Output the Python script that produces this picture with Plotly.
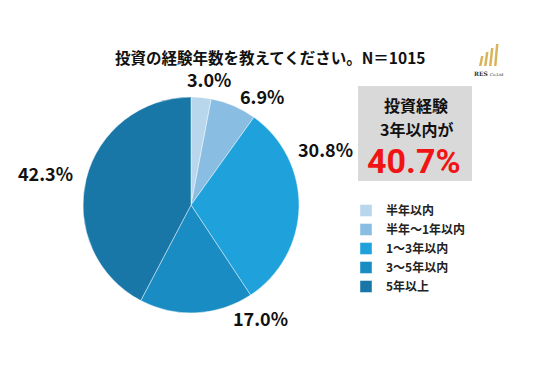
import plotly.graph_objects as go

categories = ["半年以内", "半年～1年以内", "1～3年以内", "3～5年以内", "5年以上"]
percents = [3.0, 6.9, 30.8, 17.0, 42.3]
colors = ["#b8d6ec", "#8abde2", "#1fa2dc", "#1a8cc4", "#1977a8"]
title_text = "投資の経験年数を教えてください。N＝1015"
box_lines = ["投資経験", "3年以内が", "40.7%"]

# page body has an 8px margin: work in window pixels and convert
OFF = 8
FW, FH = 528, 371
FONT = "Noto Sans CJK JP"


def X(px):
    return (px - OFF) / FW


def Y(py):
    return 1 - (py - OFF) / FH


# label anchor points (window px) for each slice label, layout only
label_pos = [(209, 79), (262, 96), (325, 149), (260, 318), (45, 173)]

CX, CY, R = 191, 205, 108

fig = go.Figure()
fig.add_trace(go.Pie(
    labels=categories,
    values=percents,
    sort=False,
    direction="clockwise",
    rotation=0,
    marker=dict(colors=colors, line=dict(color="rgba(255,255,255,0.55)", width=0.8)),
    textinfo="none",
    hoverinfo="label+percent",
    domain=dict(x=[X(CX - R), X(CX + R)], y=[Y(CY + R), Y(CY - R)]),
    showlegend=True,
))

annotations = [
    dict(text="<b>" + title_text + "</b>", x=X(270), y=Y(57), xref="paper", yref="paper",
         showarrow=False, xanchor="center", yanchor="middle",
         font=dict(family=FONT, size=15.5, color="#111111")),
    dict(text="<b>" + box_lines[0] + "</b>", x=X(416), y=Y(105), xref="paper", yref="paper",
         showarrow=False, xanchor="center", yanchor="middle",
         font=dict(family=FONT, size=16, color="#111111")),
    dict(text="<b>" + box_lines[1] + "</b>", x=X(416), y=Y(129), xref="paper", yref="paper",
         showarrow=False, xanchor="center", yanchor="middle",
         font=dict(family=FONT, size=16, color="#111111")),
    dict(text="<b>" + box_lines[2] + "</b>", x=X(414), y=Y(161), xref="paper", yref="paper",
         showarrow=False, xanchor="center", yanchor="middle",
         font=dict(family="Roboto", size=34, color="#f01414")),
    dict(text="<b>RES</b> <span style='font-size:4px'>Co.Ltd</span>", x=X(489), y=Y(73),
         xref="paper", yref="paper", showarrow=False, xanchor="center", yanchor="middle",
         font=dict(family="DejaVu Serif", size=6, color="#333333")),
]
for val, (lx, ly) in zip(percents, label_pos):
    annotations.append(dict(
        text=f"<b>{val:.1f}%</b>", x=X(lx), y=Y(ly), xref="paper", yref="paper",
        showarrow=False, xanchor="center", yanchor="middle",
        font=dict(family=FONT, size=18, color="#111111")))

shapes = [
    dict(type="rect", xref="paper", yref="paper",
         x0=X(358), x1=X(472), y0=Y(181), y1=Y(86),
         fillcolor="#d9d9d9", line=dict(width=0), layer="below"),
]
# small gold logo bars (decoration)
for bx, top in [(479, 56), (484, 52), (489, 48), (494, 44)]:
    shapes.append(dict(
        type="path", xref="paper", yref="paper",
        path=f"M {X(bx)} {Y(66)} L {X(bx + 2.5)} {Y(66)} L {X(bx + 4.5)} {Y(top)} L {X(bx + 2)} {Y(top)} Z",
        fillcolor="#d9b45a", line=dict(width=0)))

fig.update_layout(
    width=FW, height=FH,
    margin=dict(l=0, r=0, t=0, b=0),
    paper_bgcolor="white",
    plot_bgcolor="white",
    font=dict(family=FONT, color="#111111"),
    legend=dict(
        x=X(346), y=Y(196), xanchor="left", yanchor="top",
        font=dict(family=FONT, size=12, color="#222222", weight="bold"),
        itemwidth=30, tracegroupgap=0,
        bgcolor="rgba(0,0,0,0)",
    ),
    annotations=annotations,
    shapes=shapes,
)

fig.write_html("out.html")
